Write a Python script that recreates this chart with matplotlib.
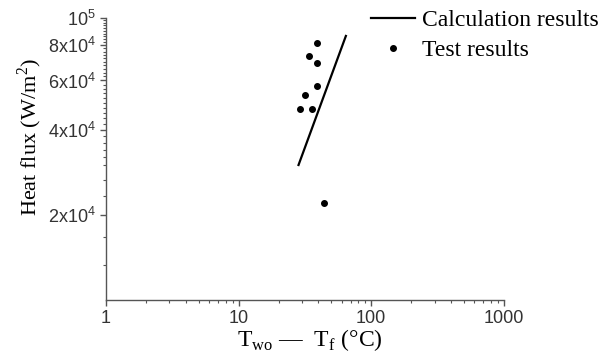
import numpy as np
import matplotlib
matplotlib.use('Agg')
import matplotlib.pyplot as plt
from matplotlib.ticker import FixedLocator, FixedFormatter, NullFormatter

# Data
calc_dT = [28.3, 64.4]
calc_flux = [3.01e4, 8.63e4]

test_dT = [38.9, 34.0, 38.9, 38.9, 31.8, 29.1, 35.5, 43.9]
test_flux = [8.18e4, 7.35e4, 6.92e4, 5.75e4, 5.32e4, 4.76e4, 4.76e4, 2.21e4]

x_ticks = [1, 10, 100, 1000]
x_tick_labels = ['1', '10', '100', '1000']
y_ticks = [2e4, 4e4, 6e4, 8e4, 1e5]
y_tick_labels = [r'$\mathsf{2x10^4}$', r'$\mathsf{4x10^4}$', r'$\mathsf{6x10^4}$',
                 r'$\mathsf{8x10^4}$', r'$\mathsf{10^5}$']

plt.rcParams['mathtext.fontset'] = 'custom'
plt.rcParams['mathtext.rm'] = 'Liberation Serif'
plt.rcParams['mathtext.sf'] = 'Liberation Sans'

fig = plt.figure(figsize=(6.14, 3.58), dpi=100)
ax = fig.add_axes([0.1726, 0.162, 0.648, 0.788])

ax.plot(calc_dT, calc_flux, color='black', lw=1.6, label='Calculation results')
ax.plot(test_dT, test_flux, 'o', color='black', ms=4, ls='none', label='Test results')

ax.set_xscale('log')
ax.set_yscale('log')
ax.set_xlim(1, 1000)
ax.set_ylim(1e4, 1e5)

for s in ['top', 'right']:
    ax.spines[s].set_visible(False)
for s in ['left', 'bottom']:
    ax.spines[s].set_color('#555555')
    ax.spines[s].set_linewidth(1.0)

ax.xaxis.set_major_locator(FixedLocator(x_ticks))
ax.xaxis.set_major_formatter(FixedFormatter(x_tick_labels))
ax.yaxis.set_major_locator(FixedLocator(y_ticks))
ax.yaxis.set_major_formatter(FixedFormatter(y_tick_labels))
ax.yaxis.set_minor_locator(FixedLocator(
    list(1e4 * np.array([4 / 3, 5 / 3, 7 / 3, 8 / 3])) + list(np.arange(3e4, 1e5, 2000))))
ax.yaxis.set_minor_formatter(NullFormatter())

ax.tick_params(which='both', direction='out', color='#555555', labelcolor='#333333')
ax.tick_params(which='major', length=4, width=1.0, labelsize=13)
ax.tick_params(which='minor', length=2.5, width=0.8)
for lab in ax.get_xticklabels() + ax.get_yticklabels():
    lab.set_family('Liberation Sans')

ax.set_xlabel(r'T$_{\rm wo}$ —  T$_{\rm f}$ (°C)', family='Liberation Serif', fontsize=17)
ax.xaxis.set_label_coords(0.513, -0.095)
ax.set_ylabel(r'Heat flux (W/m$^2$)', family='Liberation Serif', fontsize=16)
ax.yaxis.set_label_coords(-0.155, 0.578)

leg = ax.legend(loc='upper left', bbox_to_anchor=(0.605, 0.973), bbox_transform=fig.transFigure,
                frameon=False, prop={'family': 'Liberation Serif', 'size': 17},
                handlelength=1.86, handletextpad=0.28, labelspacing=0.35, borderaxespad=0,
                borderpad=0)

fig.savefig('out.png', dpi=100)
